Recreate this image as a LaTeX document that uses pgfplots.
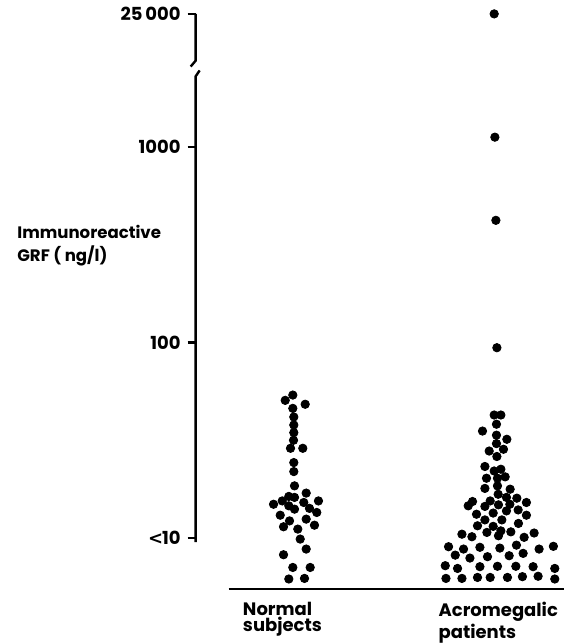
\documentclass[border=0pt]{standalone}
\usepackage{fontspec}
\setmainfont{Poppins}
\newfontfamily\dejavu{DejaVu Sans}
\usepackage{pgfplots}
\pgfplotsset{compat=1.18}

% x: horizontal position of each dot (scatter within a group)
% y: log10 of immunoreactive GRF (ng/l); y<1 are the "<10" values, spread out
\pgfplotstableread{
x y
293.3 1.731
285.7 1.704
305.7 1.684
293.3 1.663
294.3 1.619
294.3 1.578
294.3 1.539
294.0 1.500
291.0 1.459
303.3 1.459
294.3 1.386
294.3 1.340
295.0 1.267
289.3 1.213
295.0 1.208
306.7 1.230
274.0 1.173
282.7 1.190
304.3 1.182
319.0 1.190
289.3 1.165
295.0 1.148
310.0 1.152
317.3 1.131
280.7 1.117
290.0 1.088
306.7 1.097
284.0 1.058
298.3 1.046
315.0 1.066
300.7 0.995
306.7 0.944
284.0 0.915
293.3 0.850
310.7 0.850
289.3 0.791
305.0 0.794
}\normal

\pgfplotstableread{
x y
495.0 3.679
495.7 3.049
496.7 2.624
497.7 1.973
495.0 1.629
501.7 1.629
497.3 1.582
483.3 1.547
497.3 1.526
507.7 1.505
497.3 1.483
490.0 1.445
504.3 1.454
497.7 1.417
485.7 1.366
495.0 1.343
501.7 1.352
487.3 1.306
498.3 1.306
506.0 1.313
498.3 1.267
485.7 1.254
511.0 1.250
499.0 1.224
507.3 1.208
517.7 1.204
473.3 1.187
469.0 1.165
485.7 1.162
491.0 1.190
499.3 1.170
510.7 1.173
527.3 1.182
477.3 1.122
494.0 1.128
507.3 1.139
519.0 1.144
527.3 1.117
485.7 1.093
502.7 1.093
478.3 1.063
494.0 1.060
519.3 1.075
462.7 1.020
472.7 1.007
487.7 1.029
501.7 1.037
499.3 1.012
511.7 1.032
525.0 1.004
535.0 1.026
449.3 0.956
464.3 0.944
480.7 0.953
500.7 0.949
517.3 0.964
540.0 0.944
554.3 0.958
456.0 0.913
470.7 0.898
488.3 0.905
510.0 0.910
524.0 0.922
446.0 0.859
458.3 0.845
480.7 0.854
498.3 0.856
516.7 0.856
534.0 0.854
555.7 0.845
446.7 0.794
462.7 0.794
478.3 0.799
491.0 0.799
508.3 0.799
523.3 0.803
539.0 0.805
555.7 0.791
}\acro

\begin{document}
\begin{tikzpicture}[font=\bfseries\fontsize{9}{10}\selectfont]
\begin{axis}[
  x=0.5pt, y=98pt,
  xmin=196, xmax=588,
  ymin=0.469, ymax=3.75,
  axis x line=none,
  axis y line*=left,
  y axis line style={draw=none},
  ytick={1,2,3,3.679},
  yticklabels={{{\dejavu\bfseries<}\kern-0.5pt10},100,1000,25\,000},
  yticklabel style={font=\bfseries\fontsize{9}{10}\selectfont},
  tick align=outside,
  major tick length=4pt,
  ytick style={line width=1.2pt, black},
  clip=false,
]
\addplot[only marks, mark=*, mark size=2.1pt, black] table {\normal};
\addplot[only marks, mark=*, mark size=2.1pt, black] table {\acro};
% baseline under the dots
\addplot[line width=1.3pt, black, mark=none] coordinates {(229,0.740) (565,0.740)};
% broken y axis line
\draw[line width=1.2pt] (axis cs:196,3.679) -- (axis cs:196,3.44) -- (axis cs:191,3.41);
\draw[line width=1.2pt] (axis cs:200,3.39) -- (axis cs:196,3.36) -- (axis cs:196,0.98);
\node[anchor=north west, align=left, inner sep=0, font=\bfseries\fontsize{8.3}{11.5}\selectfont]
  at (axis cs:17,2.60) {Immunoreactive\\GRF ( ng/l)};
\node[anchor=north west, align=left, inner sep=0, font=\bfseries\fontsize{9}{8}\selectfont]
  at (axis cs:243,0.673) {Normal\\subjects};
\node[anchor=north west, align=left, inner sep=0, font=\bfseries\fontsize{9}{8}\selectfont]
  at (axis cs:439,0.673) {Acromegalic\\patients};
\path (axis cs:0,0.469) rectangle (axis cs:588,3.75);
\end{axis}
\end{tikzpicture}
\end{document}
